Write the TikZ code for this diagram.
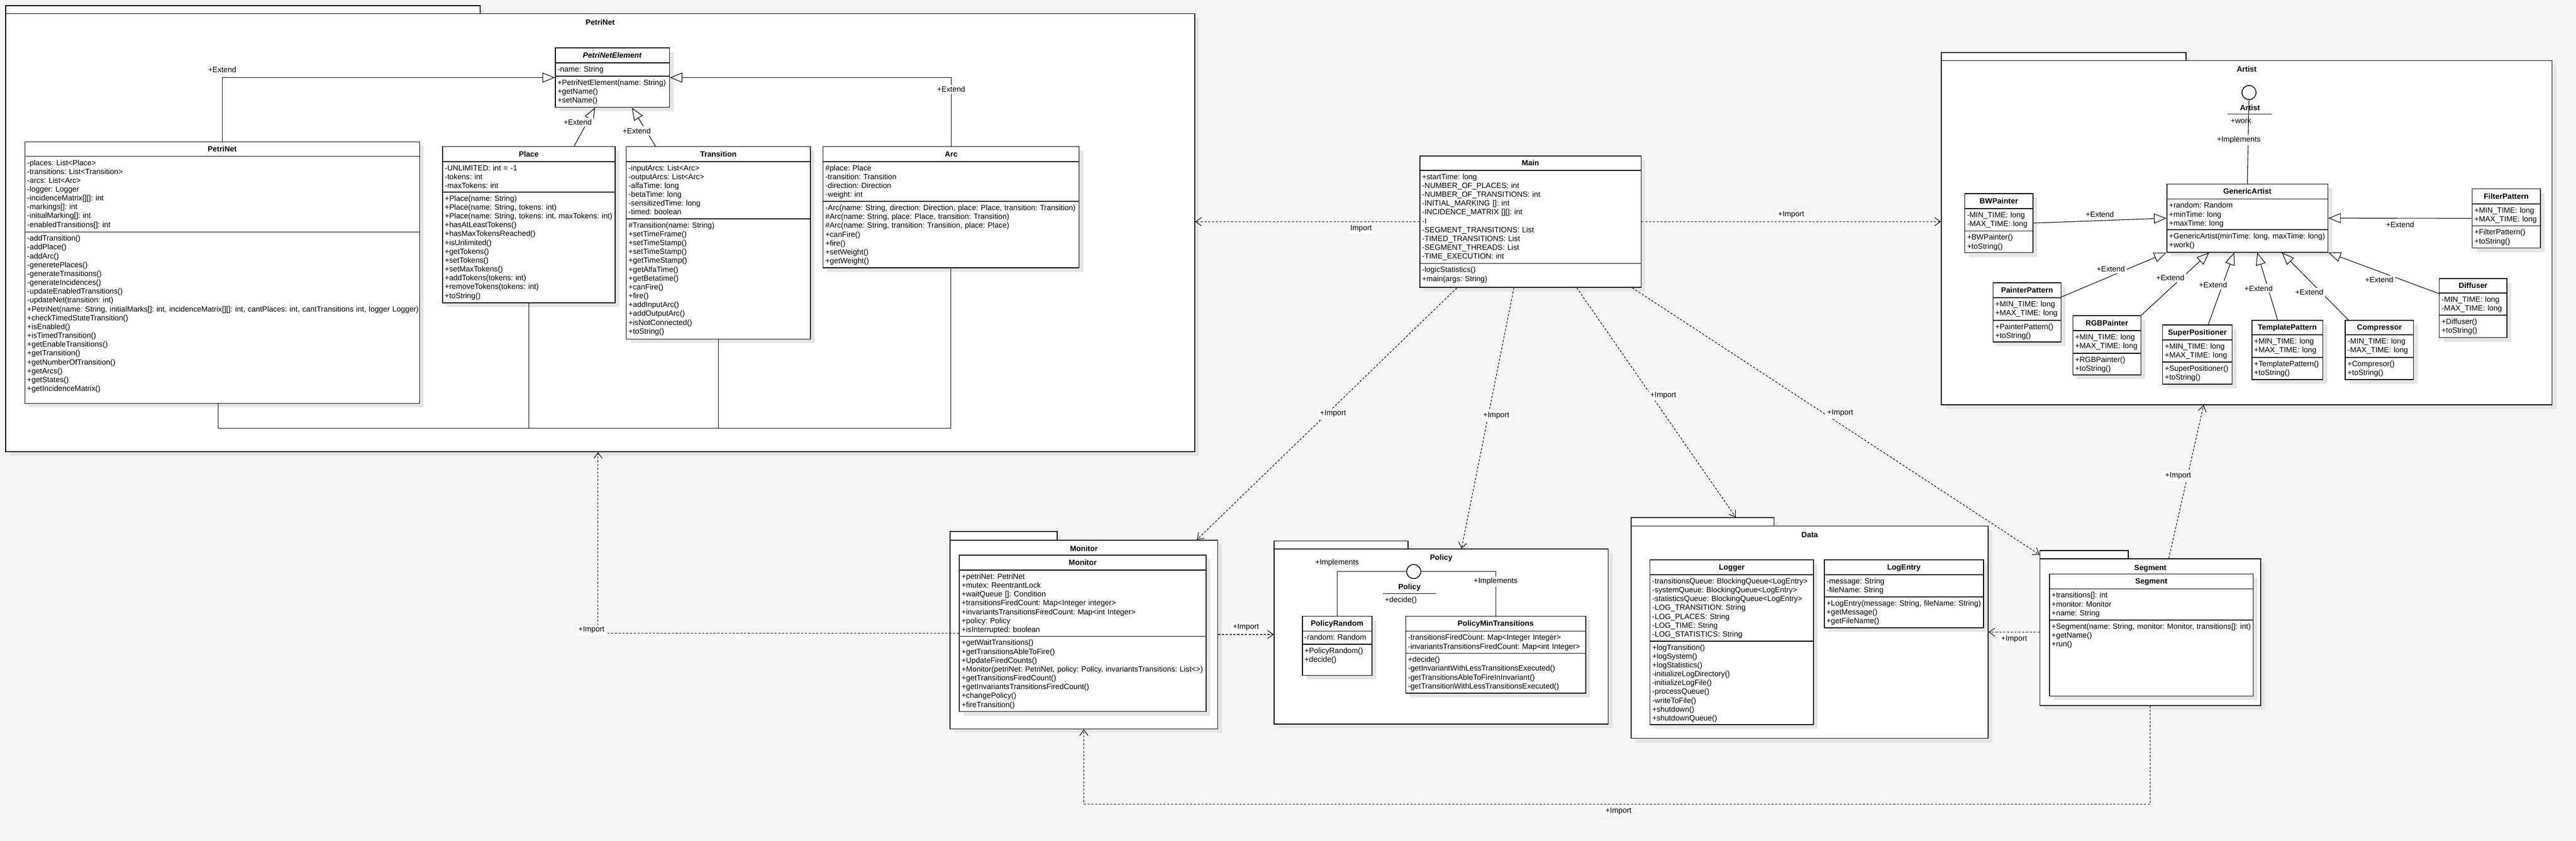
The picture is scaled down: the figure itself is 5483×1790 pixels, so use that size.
\documentclass[tikz,border=0pt]{standalone}
\usepackage{fontspec}
\setmainfont{Liberation Sans}
\usetikzlibrary{positioning, fit, calc, arrows.meta, shadows}

\newcommand{\umlfont}{\fontsize{4.6pt}{5.35pt}\selectfont\frenchspacing}

\tikzset{
  classbox/.style={draw, fill=white, line width=0.5pt, inner sep=0pt,
    drop shadow={shadow xshift=2.5pt, shadow yshift=-2.5pt, fill=black!10, opacity=1}},
  pkgbox/.style={classbox},
  rulesep/.style={line width=0.5pt},
  classtitle/.style={font=\umlfont\bfseries, inner sep=0pt, text height=3.3pt, text depth=0pt},
  members/.style={font=\umlfont, anchor=base west, inner sep=0pt, text width=10cm, align=left},
  lbl/.style={font=\umlfont, fill=white, inner sep=1pt},
  assocline/.style={line width=0.35pt},
  extline/.style={line width=0.35pt, -{Triangle[open, length=7.5pt, width=6pt]}},
  impline/.style={line width=0.35pt, dash pattern=on 1.3pt off 1pt, -{Straight Barb[length=3.5pt, width=5pt]}},
  ifcircle/.style={circle, draw, fill=white, line width=0.5pt, minimum size=0.3cm, inner sep=0pt}
}

% package: name, tab corner, tab corner, body corner, title
\newcommand{\umlpackage}[5]{%
  \node[pkgbox, fit={(#2) (#3)}] (#1tab) {};
  \node[pkgbox, fit={(#2 |- #3) (#4)}] (#1) {};
  \node[classtitle] at ($(#1.north)+(0,19)$) {#5};
}
% class: name, corner, corner, rule 1, rule 2, title, attributes, operations
\newcommand{\umlclass}[8]{%
  \node[classbox, fit={(#2) (#3)}] (#1) {};
  \draw[rulesep] (#1.west |- 0,#4) -- (#1.east |- 0,#4);
  \draw[rulesep] (#1.west |- 0,#5) -- (#1.east |- 0,#5);
  \node[classtitle] at ($(#1.north)!0.5!(#1.north |- 0,#4)$) {#6};
  \node[members] at ($(#1.west |- 0,#4)+(5,19)$) {#7};
  \node[members] at ($(#1.west |- 0,#5)+(5,19)$) {#8};
}

\begin{document}
\begin{tikzpicture}[x=0.01cm, y=-0.01cm]
\fill[black!4] (0,0) rectangle (5483,1790);
\useasboundingbox (0,0) rectangle (5483,1790);

% packages
\umlpackage{pkgPetri}{12,12}{1022,29}{2543,962}{PetriNet}
\umlpackage{pkgArtist}{4132,112}{4653,129}{5432,862}{Artist}
\umlpackage{pkgMonitor}{2022,1132}{2250,1150}{2592,1552}{Monitor}
\umlpackage{pkgPolicy}{2712,1152}{2997,1169}{3423,1542}{Policy}
\umlpackage{pkgData}{3472,1102}{3776,1120}{4232,1572}{Data}
\umlpackage{pkgSegment}{4342,1172}{4530,1190}{4812,1502}{Segment}

% PetriNet package
\umlclass{petriNet}{53,302}{893,859}{333}{494}{PetriNet}
{-places: List<Place>\\-transitions: List<Transition>\\-arcs: List<Arc>\\-logger: Logger\\-incidenceMatrix[][]: int\\-markings[]: int\\-initialMarking[]: int\\-enabledTransitions[]: int}
{-addTransition()\\-addPlace()\\-addArc()\\-generetePlaces()\\-generateTrnasitions()\\-generateIncidences()\\-updateEnabledTransitions()\\-updateNet(transition: int)\\+PetriNet(name: String, initialMarks[]: int, incidenceMatrix[][]: int, cantPlaces: int, cantTransitions int, logger Logger)\\+checkTimedStateTransition()\\+isEnabled()\\+isTimedTransition()\\+getEnableTransitions()\\+getTransition()\\+getNumberOfTransition()\\+getArcs()\\+getStates()\\+getIncidenceMatrix()}
\umlclass{netElement}{1182,102}{1425,228.5}{134}{162}{\textit{PetriNetElement}}
{-name: String}
{+PetriNetElement(name: String)\\+getName()\\+setName()}
\umlclass{place}{942,312}{1309,645}{344}{409}{Place}
{-UNLIMITED: int = -1\\-tokens: int\\-maxTokens: int}
{+Place(name: String)\\+Place(name: String, tokens: int)\\+Place(name: String, tokens: int, maxTokens: int)\\+hasAtLeastTokens()\\+hasMaxTokensReached()\\+isUnlimited()\\+getTokens()\\+setTokens()\\+setMaxTokens()\\+addTokens(tokens: int)\\+removeTokens(tokens: int)\\+toString()}
\umlclass{transition}{1333,312}{1725,722}{344}{466}{Transition}
{-inputArcs: List<Arc>\\-outputArcs: List<Arc>\\-alfaTime: long\\-betaTime: long\\-sensitizedTime: long\\-timed: boolean}
{\#Transition(name: String)\\+setTimeFrame()\\+setTimeStamp()\\+setTimeStamp()\\+getTimeStamp()\\+getAlfaTime()\\+getBetatime()\\+canFire()\\+fire()\\+addInputArc()\\+addOutputArc()\\+isNotConnected()\\+toString()}
\umlclass{netArc}{1752,312}{2297,570}{344}{429}{Arc}
{\#place: Place\\-transition: Transition\\-direction: Direction\\-weight: int}
{-Arc(name: String, direction: Direction, place: Place, transition: Transition)\\\#Arc(name: String, place: Place, transition: Transition)\\\#Arc(name: String, transition: Transition, place: Place)\\+canFire()\\+fire()\\+setWeight()\\+getWeight()}

% Main
\umlclass{mainClass}{3022,332}{3493,612}{363}{561}{Main}
{+startTime: long\\-NUMBER\_OF\_PLACES: int\\-NUMBER\_OF\_TRANSITIONS: int\\-INITIAL\_MARKING []: int\\-INCIDENCE\_MATRIX [][]: int\\-I\\-SEGMENT\_TRANSITIONS: List\\-TIMED\_TRANSITIONS: List\\-SEGMENT\_THREADS: List\\-TIME\_EXECUTION: int}
{-logicStatistics()\\+main(args: String)}

% Artist package
\umlclass{genericArtist}{4612,392}{4955,537}{424}{489}{GenericArtist}
{+random: Random\\+minTime: long\\+maxTime: long}
{+GenericArtist(minTime: long, maxTime: long)\\+work()}
\umlclass{bwPainter}{4182,412}{4327,538}{444}{492}{BWPainter}
{-MIN\_TIME: long\\-MAX\_TIME: long}{+BWPainter()\\+toString()}
\umlclass{filterPattern}{5262,402}{5407,528}{434}{481}{FilterPattern}
{+MIN\_TIME: long\\+MAX\_TIME: long}{+FilterPattern()\\+toString()}
\umlclass{painterPattern}{4242,602}{4387,728}{634}{682}{PainterPattern}
{+MIN\_TIME: long\\+MAX\_TIME: long}{+PainterPattern()\\+toString()}
\umlclass{rgbPainter}{4412,672}{4557,798}{704}{752}{RGBPainter}
{+MIN\_TIME: long\\+MAX\_TIME: long}{+RGBPainter()\\+toString()}
\umlclass{superPositioner}{4603,692}{4751,818}{724}{771}{SuperPositioner}
{+MIN\_TIME: long\\+MAX\_TIME: long}{+SuperPositioner()\\+toString()}
\umlclass{templatePattern}{4793,682}{4944,808}{713}{761}{TemplatePattern}
{+MIN\_TIME: long\\+MAX\_TIME: long}{+TemplatePattern()\\+toString()}
\umlclass{compressor}{4992,682}{5137,808}{713}{761}{Compressor}
{-MIN\_TIME: long\\-MAX\_TIME: long}{+Compresor()\\+toString()}
\umlclass{diffuser}{5192,593}{5336,719}{624}{671}{Diffuser}
{-MIN\_TIME: long\\-MAX\_TIME: long}{+Diffuser()\\+toString()}
\node[ifcircle] (artistIf) at (4787,197) {};
\node[classtitle] (artistIfName) at (4789,229) {Artist};
\draw[rulesep] (4742,243) -- (4835,243);
\node[font=\umlfont, inner sep=0pt] (artistIfOp) at (4770,257) {+work};

% Monitor, Policy, Data, Segment
\umlclass{monitor}{2042,1182}{2567,1515}{1214}{1355}{Monitor}
{+petriNet: PetriNet\\+mutex: ReentrantLock\\+waitQueue []: Condition\\+transitionsFiredCount: Map<Integer integer>\\+invariantsTransitionsFiredCount: Map<int Integer>\\+policy: Policy\\+isInterrupted: boolean}
{+getWaitTransitions()\\+getTransitionsAbleToFire()\\+UpdateFiredCounts()\\+Monitor(petriNet: PetriNet, policy: Policy, invariantsTransitions: List<>)\\+getTransitionsFiredCount()\\+getInvariantsTransitionsFiredCount()\\+changePolicy()\\+fireTransition()}
\umlclass{policyRandom}{2772,1312}{2920,1438}{1344}{1372}{PolicyRandom}
{-random: Random}{+PolicyRandom()\\+decide()}
\umlclass{policyMin}{2992,1312}{3375,1476}{1344}{1391}{PolicyMinTransitions}
{-transitionsFiredCount: Map<Integer Integer>\\-invariantsTransitionsFiredCount: Map<int Integer>}
{+decide()\\-getInvariantWithLessTransitionsExecuted()\\-getTransitionsAbleToFireInInvariant()\\-getTransitionWithLessTransitionsExecuted()}
\node[ifcircle] (policyIf) at (3009,1217) {};
\node[classtitle] (policyIfName) at (3000,1249) {Policy};
\draw[rulesep] (2943,1264) -- (3056,1264);
\node[font=\umlfont, inner sep=0pt, anchor=west] (policyIfOp) at (2947,1278) {+decide()};
\umlclass{logger}{3512,1192}{3860,1543}{1224}{1365}{Logger}
{-transitionsQueue: BlockingQueue<LogEntry>\\-systemQueue: BlockingQueue<LogEntry>\\-statisticsQueue: BlockingQueue<LogEntry>\\-LOG\_TRANSITION: String\\-LOG\_PLACES: String\\-LOG\_TIME: String\\-LOG\_STATISTICS: String}
{+logTransition()\\+logSystem()\\+logStatistics()\\-initializeLogDirectory()\\-initializeLogFile()\\-processQueue()\\-writeToFile()\\+shutdown()\\+shutdownQueue()}
\umlclass{logEntry}{3883,1192}{4222,1337}{1224}{1271}{LogEntry}
{-message: String\\-fileName: String}
{+LogEntry(message: String, fileName: String)\\+getMessage()\\+getFileName()}
\umlclass{segment}{4362,1222}{4796,1482}{1254}{1320}{Segment}
{+transitions[]: int\\+monitor: Monitor\\+name: String}
{+Segment(name: String, monitor: Monitor, transitions[]: int)\\+getName()\\+run()}

% inheritance inside PetriNet
\draw[extline] (petriNet.north) |- node[lbl, pos=0.5, above=2pt]{+Extend} (netElement.west);
\draw[extline] (place.60) -- node[lbl, pos=0.62, xshift=-0.2cm]{+Extend} (netElement.240);
\draw[extline] (transition.123) -- node[lbl, pos=0.4, xshift=-0.2cm]{+Extend} (netElement.303);
\draw[extline] (netArc.north) |- node[lbl, pos=0.415]{+Extend} (netElement.east);
\coordinate (busL) at (464,912);
\coordinate (busR) at (2024,912);
\draw[assocline] (petriNet.south -| busL) -- (busL) -- (busR) -- (netArc.south -| busR);
\draw[assocline] (place.south) -- (place.south |- busL);
\draw[assocline] (transition.south) -- (transition.south |- busL);

% inheritance inside Artist
\draw[assocline] (artistIf) -- node[lbl, pos=0.48, xshift=-0.2cm]{+Implements} (genericArtist.north);
\draw[extline] (bwPainter.east) -- node[lbl, above=1pt]{+Extend} (genericArtist.west);
\draw[extline] (filterPattern.west) -- node[lbl, below=1pt]{+Extend} (genericArtist.east);
\draw[extline] (painterPattern.24) -- node[lbl, pos=0.47, yshift=0.15cm]{+Extend} (genericArtist.south west);
\draw[extline] (rgbPainter.north east) -- node[lbl, pos=0.6, xshift=-0.25cm]{+Extend} (genericArtist.222);
\draw[extline] (superPositioner.70) -- node[lbl, pos=0.55, xshift=-0.2cm]{+Extend} (genericArtist.249);
\draw[extline] (templatePattern.108) -- node[lbl, pos=0.47, xshift=-0.2cm]{+Extend} (genericArtist.286);
\draw[extline] (compressor.136) -- node[lbl, pos=0.41, xshift=-0.25cm]{+Extend} (genericArtist.315);
\draw[extline] (diffuser.157) -- node[lbl, pos=0.54, yshift=-0.18cm]{+Extend} (genericArtist.south east);

% Policy realisations
\draw[assocline] (policyIf.west) -| node[lbl, pos=0.5, above=2pt]{+Implements} (policyRandom.north);
\draw[assocline] (policyIf.east) -| node[lbl, pos=0.61]{+Implements} (policyMin.north);

% imports
\draw[impline] (mainClass.west) -- node[lbl, pos=0.26, below=1pt]{Import} (mainClass.west -| pkgPetri.east);
\draw[impline] (mainClass.east) -- node[lbl, above=1pt]{+Import} (mainClass.east -| pkgArtist.west);
\draw[impline] (mainClass.222) -- node[lbl, pos=0.5, xshift=0.13cm]{+Import} (pkgMonitor.40);
\draw[impline] (mainClass.256) -- node[lbl, pos=0.49, xshift=0.17cm]{+Import} (pkgPolicy.77);
\draw[impline] (mainClass.305) -- node[lbl, pos=0.47, xshift=0.25cm]{+Import} (pkgDatatab.8);
\draw[impline] (mainClass.327) -- node[lbl, pos=0.47, xshift=0.35cm]{+Import} (pkgSegmenttab.west);
\coordinate (monImport) at (1273,1348);
\draw[impline] (monitor.west) -- (monitor.west -| monImport) -- (monImport |- pkgPetri.south);
\node[lbl] (monImportLbl) at (1259,1341) {+Import};
\draw[impline] (pkgMonitor.east) -- node[lbl, above=1pt]{+Import} (pkgMonitor.east -| pkgPolicy.west);
\draw[impline] (pkgSegment.76) -- node[lbl, pos=0.54, xshift=-0.2cm]{+Import} (pkgArtist.256);
\draw[impline] (pkgSegment.west) -- node[lbl, below=1pt]{+Import} (pkgData.east);
\coordinate (loopImport) at (3445,1712);
\draw[impline] (pkgSegment.south) |- (loopImport) -| (pkgMonitor.south);
\node[lbl, below=1pt] (loopImportLbl) at (loopImport) {+Import};
\end{tikzpicture}
\end{document}
